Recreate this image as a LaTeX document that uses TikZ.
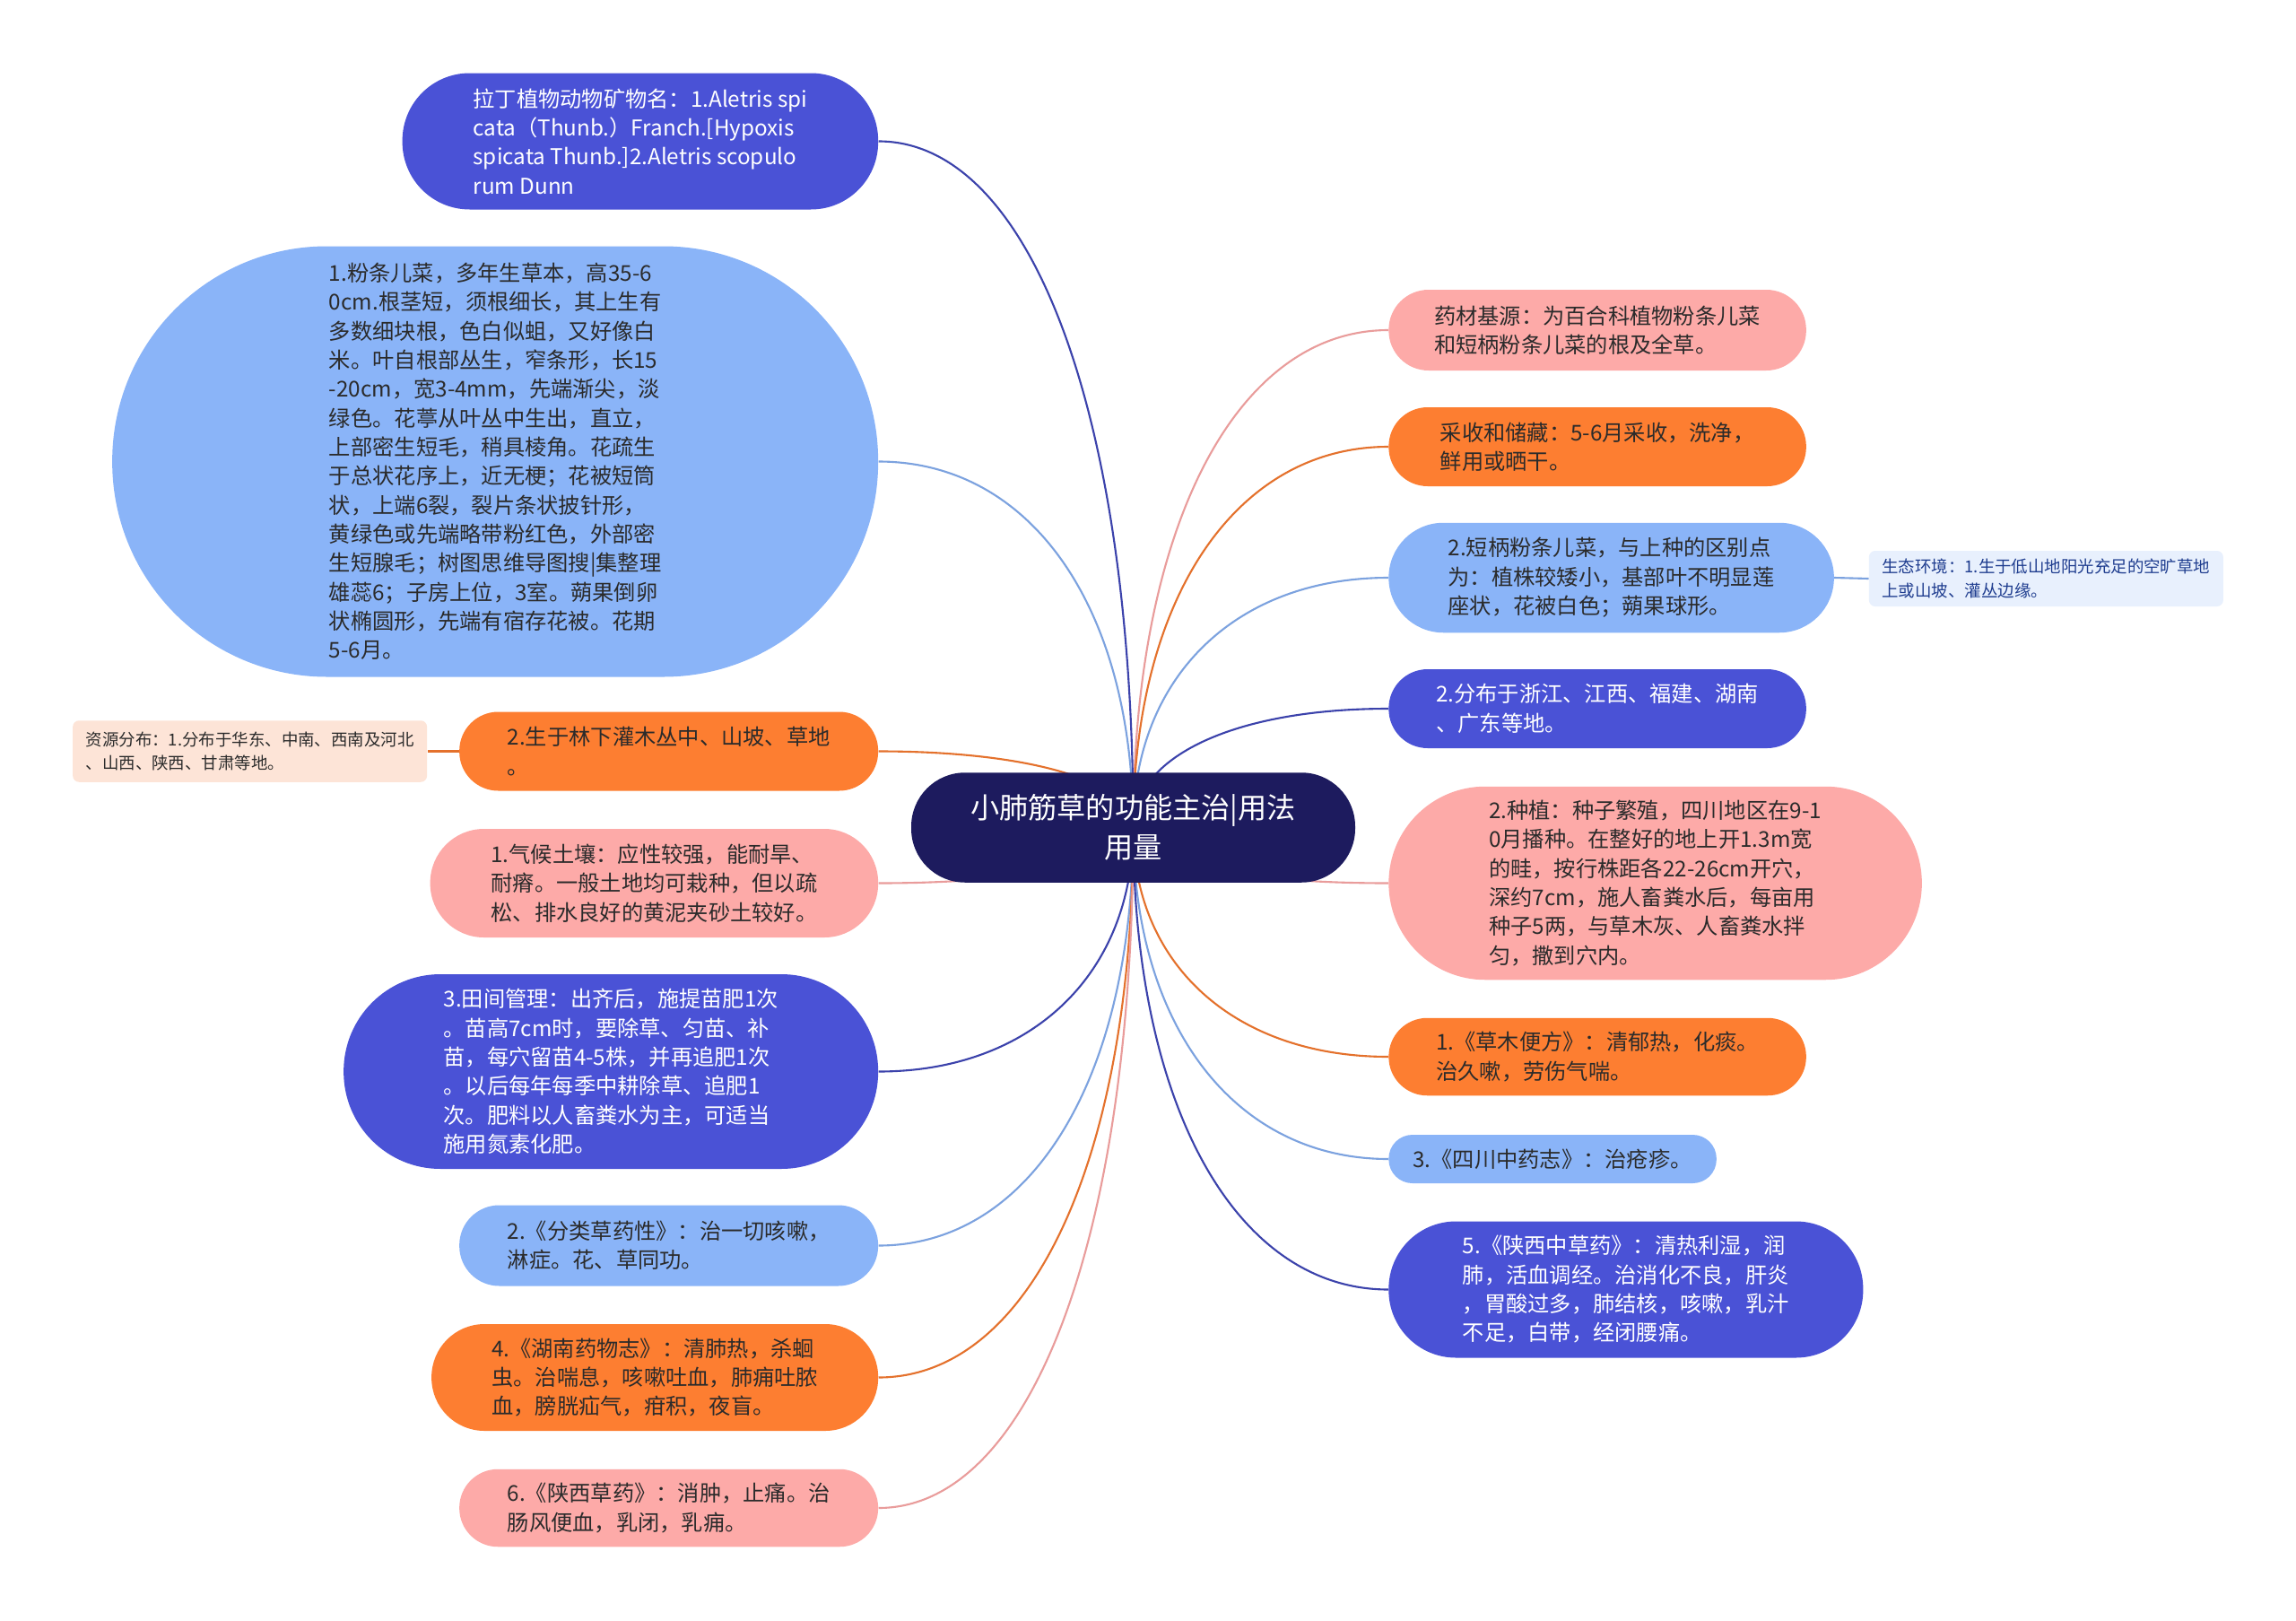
\documentclass[tikz,border=0pt]{standalone}
\usepackage{fontspec}
\setmainfont{Noto Sans CJK SC}
\usetikzlibrary{backgrounds, calc}

\definecolor{mmRoot}{HTML}{1D1B5E}
\definecolor{mmViolet}{HTML}{4A52D6}
\definecolor{mmSky}{HTML}{8AB4F8}
\definecolor{mmOrange}{HTML}{FD7E31}
\definecolor{mmPink}{HTML}{FDAAA8}
\definecolor{mmPeach}{HTML}{FDE4D7}
\definecolor{mmIce}{HTML}{E8F0FD}
\definecolor{mmInk}{HTML}{2B2B2B}
\definecolor{mmNavy}{HTML}{1F3D8F}

\begin{document}
\begin{tikzpicture}[
    root/.style={
      fill=mmRoot, text=white, align=center,
      font=\fontsize{18.3}{25}\selectfont,
      rectangle, rounded corners=1.2cm, inner sep=0pt,
      minimum width=9.9cm, minimum height=2.45cm,
    },
    topic/.style={
      font=\fontsize{13.8}{18.4}\selectfont, align=left,
      text=mmInk, rectangle, inner sep=0pt,
    },
    topicV/.style={topic, fill=mmViolet, text=white},
    topicS/.style={topic, fill=mmSky},
    topicO/.style={topic, fill=mmOrange},
    topicP/.style={topic, fill=mmPink},
    leftT/.style={anchor=east},
    rightT/.style={anchor=west},
    leaf/.style={
      font=\fontsize{10.5}{15}\selectfont, align=left,
      rectangle, rounded corners=4pt, inner sep=0pt,
    },
    link/.style={line width=1.2pt},
    linkV/.style={link, mmViolet!80!black},
    linkS/.style={link, mmSky!90!black},
    linkO/.style={link, mmOrange!90!black},
    linkP/.style={link, mmPink!92!black},
    branch/.style={to path={
        .. controls ($(\tikztostart)!0.6!(\tikztostart |- \tikztotarget)$)
        and ($(\tikztotarget)!0.6!(\tikztostart |- \tikztotarget)$) .. (\tikztotarget)}},
]
\useasboundingbox (0,0) rectangle (51.2,-36.14);

% Root
\node[root] (root) at (25.27,-18.45) {小肺筋草的功能主治|用法\\用量};

% Left branch
\node[topicV, leftT, minimum width=10.61cm, minimum height=3.04cm, rounded corners=1.5cm]
    (latin) at (19.59,-3.15) {拉丁植物动物矿物名：1.Aletris spi\\
                              cata（Thunb.）Franch.[Hypoxis\\
                              spicata Thunb.]2.Aletris scopulo\\
                              rum Dunn};
\node[topicS, leftT, minimum width=17.08cm, minimum height=9.60cm, rounded corners=4.79cm]
    (morph) at (19.59,-10.29) {1.粉条儿菜，多年生草本，高35-6\\
                               0cm.根茎短，须根细长，其上生有\\
                               多数细块根，色白似蛆，又好像白\\
                               米。叶自根部丛生，窄条形，长15\\
                               -20cm，宽3-4mm，先端渐尖，淡\\
                               绿色。花葶从叶丛中生出，直立，\\
                               上部密生短毛，稍具棱角。花疏生\\
                               于总状花序上，近无梗；花被短筒\\
                               状，上端6裂，裂片条状披针形，\\
                               黄绿色或先端略带粉红色，外部密\\
                               生短腺毛；树图思维导图搜|集整理\\
                               雄蕊6；子房上位，3室。蒴果倒卵\\
                               状椭圆形，先端有宿存花被。花期\\
                               5-6月。};
\node[topicO, leftT, minimum width=9.34cm, minimum height=1.76cm, rounded corners=0.87cm]
    (habitat) at (19.59,-16.75) {2.生于林下灌木丛中、山坡、草地\\
                                 。};
\node[leaf, fill=mmPeach, text=mmInk, anchor=east, minimum width=7.90cm, minimum height=1.37cm]
    (distrib) at (9.53,-16.75) {资源分布：1.分布于华东、中南、西南及河北\\
                                、山西、陕西、甘肃等地。};
\node[topicP, leftT, minimum width=9.99cm, minimum height=2.42cm, rounded corners=1.2cm]
    (soil) at (19.59,-19.69) {1.气候土壤：应性较强，能耐旱、\\
                              耐瘠。一般土地均可栽种，但以疏\\
                              松、排水良好的黄泥夹砂土较好。};
\node[topicV, leftT, minimum width=11.92cm, minimum height=4.34cm, rounded corners=2.16cm]
    (field) at (19.59,-23.89) {3.田间管理：出齐后，施提苗肥1次\\
                               。苗高7cm时，要除草、匀苗、补\\
                               苗，每穴留苗4-5株，并再追肥1次\\
                               。以后每年每季中耕除草、追肥1\\
                               次。肥料以人畜粪水为主，可适当\\
                               施用氮素化肥。};
\node[topicS, leftT, minimum width=9.34cm, minimum height=1.80cm, rounded corners=0.89cm]
    (fenlei) at (19.59,-27.77) {2.《分类草药性》：治一切咳嗽，\\
                                淋症。花、草同功。};
\node[topicO, leftT, minimum width=9.96cm, minimum height=2.38cm, rounded corners=1.18cm]
    (hunan) at (19.59,-30.71) {4.《湖南药物志》：清肺热，杀蛔\\
                               虫。治喘息，咳嗽吐血，肺痈吐脓\\
                               血，膀胱疝气，疳积，夜盲。};
\node[topicP, leftT, minimum width=9.34cm, minimum height=1.73cm, rounded corners=0.86cm]
    (shaanxi) at (19.59,-33.62) {6.《陕西草药》：消肿，止痛。治\\
                                 肠风便血，乳闭，乳痈。};

% Right branch
\node[topicP, rightT, minimum width=9.31cm, minimum height=1.80cm, rounded corners=0.89cm]
    (source) at (30.96,-7.36) {药材基源：为百合科植物粉条儿菜\\
                               和短柄粉条儿菜的根及全草。};
\node[topicO, rightT, minimum width=9.31cm, minimum height=1.76cm, rounded corners=0.87cm]
    (harvest) at (30.96,-9.96) {采收和储藏：5-6月采收，洗净，\\
                                鲜用或晒干。};
\node[topicS, rightT, minimum width=9.93cm, minimum height=2.45cm, rounded corners=1.22cm]
    (shortkind) at (30.96,-12.88) {2.短柄粉条儿菜，与上种的区别点\\
                                   为：植株较矮小，基部叶不明显莲\\
                                   座状，花被白色；蒴果球形。};
\node[leaf, fill=mmIce, text=mmNavy, anchor=west, minimum width=7.90cm, minimum height=1.24cm]
    (ecology) at (41.67,-12.90) {生态环境：1.生于低山地阳光充足的空旷草地\\
                                 上或山坡、灌丛边缘。};
\node[topicV, rightT, minimum width=9.31cm, minimum height=1.76cm, rounded corners=0.87cm]
    (range) at (30.96,-15.80) {2.分布于浙江、江西、福建、湖南\\
                               、广东等地。};
\node[topicP, rightT, minimum width=11.89cm, minimum height=4.31cm, rounded corners=2.15cm]
    (planting) at (30.96,-19.69) {2.种植：种子繁殖，四川地区在9-1\\
                                  0月播种。在整好的地上开1.3m宽\\
                                  的畦，按行株距各22-26cm开穴，\\
                                  深约7cm，施人畜粪水后，每亩用\\
                                  种子5两，与草木灰、人畜粪水拌\\
                                  匀，撒到穴内。};
\node[topicO, rightT, minimum width=9.31cm, minimum height=1.73cm, rounded corners=0.86cm]
    (caomu) at (30.96,-23.56) {1.《草木便方》：清郁热，化痰。\\
                               治久嗽，劳伤气喘。};
\node[topicS, rightT, minimum width=7.31cm, minimum height=1.08cm, rounded corners=0.53cm]
    (sichuan) at (30.96,-25.84) {3.《四川中药志》：治疮疹。};
\node[topicV, rightT, minimum width=10.58cm, minimum height=3.04cm, rounded corners=1.5cm]
    (shaanxiZ) at (30.96,-28.75) {5.《陕西中草药》：清热利湿，润\\
                                  肺，活血调经。治消化不良，肝炎\\
                                  ，胃酸过多，肺结核，咳嗽，乳汁\\
                                  不足，白带，经闭腰痛。};

% Connectors, behind the topics
\begin{scope}[on background layer]
\fill[white] (0,0) rectangle (51.2,-36.14);
\draw[linkV, branch] (root.center) to (latin.east);
\draw[linkS, branch] (root.center) to (morph.east);
\draw[linkO, branch] (root.center) to (habitat.east);
\draw[linkP, branch] (root.center) to (soil.east);
\draw[linkV, branch] (root.center) to (field.east);
\draw[linkS, branch] (root.center) to (fenlei.east);
\draw[linkO, branch] (root.center) to (hunan.east);
\draw[linkP, branch] (root.center) to (shaanxi.east);

\draw[linkP, branch] (root.center) to (source.west);
\draw[linkO, branch] (root.center) to (harvest.west);
\draw[linkS, branch] (root.center) to (shortkind.west);
\draw[linkV, branch] (root.center) to (range.west);
\draw[linkP, branch] (root.center) to (planting.west);
\draw[linkO, branch] (root.center) to (caomu.west);
\draw[linkS, branch] (root.center) to (sichuan.west);
\draw[linkV, branch] (root.center) to (shaanxiZ.west);

% Side notes
\draw[linkO] (habitat.west) -- (distrib.east);
\draw[linkS] (shortkind.east) -- (ecology.west);
\end{scope}
\end{tikzpicture}
\end{document}
